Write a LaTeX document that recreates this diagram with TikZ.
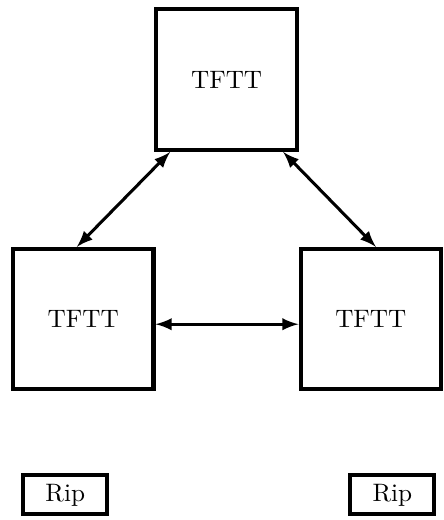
\documentclass[tikz,border=0pt]{standalone}
\usepackage{amsmath}
\usepackage{amssymb}
\usepackage{tikz}
\usetikzlibrary{arrows, positioning}

\begin{document}
\begin{tikzpicture}[>=latex, baseline=(current bounding box.center),
		party/.style={draw, ultra thick, minimum size=1.96cm},
		ripbox/.style={draw, ultra thick, minimum width=1.17cm, minimum height=0.5cm}]
		\useasboundingbox (0,0) rectangle (6.19,7.25);
		
		\node [party] (top) at (3.16,6.14) {TFTT};
		\node [party] (left) at (1.16,2.80) {TFTT};
		\node [party] (right) at (5.17,2.80) {TFTT};
		
		\draw [very thick, <->] (top.232)--(left.95);
		\draw [very thick, <->] (top.308)--(right.86);
		\draw [very thick, <->] (left.-4)--(right.184);
		
%		\draw [very thick, <->] (left.south)--(ripl.north);
		\node [ripbox] (ripl) at (0.91,0.35) {Rip};
		\node [ripbox] (ripr) at (5.47,0.35) {Rip};
	\end{tikzpicture}
\end{document}
